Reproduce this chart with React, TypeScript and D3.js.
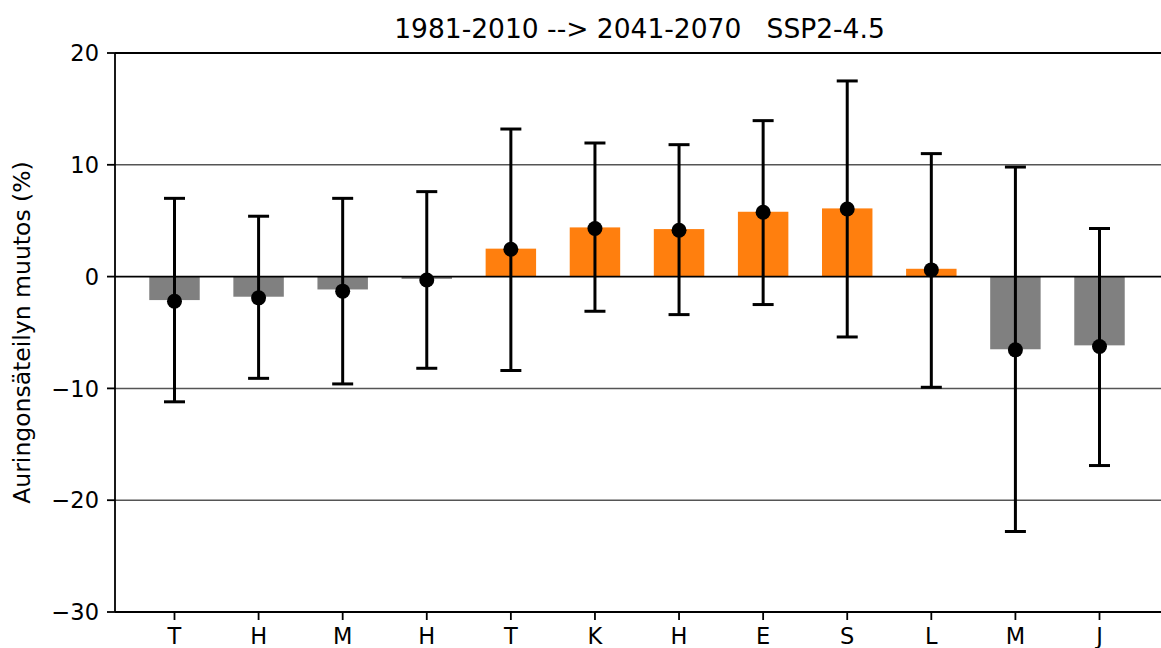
import React from "react";
import * as d3 from "d3";

const categories = ["T", "H", "M", "H", "T", "K", "H", "E", "S", "L", "M", "J"];
const barValues = [-2.1, -1.8, -1.15, -0.2, 2.5, 4.4, 4.25, 5.8, 6.1, 0.7, -6.5, -6.15];
const dotValues = [-2.2, -1.9, -1.3, -0.3, 2.45, 4.3, 4.15, 5.75, 6.05, 0.6, -6.55, -6.25];
const upperValues = [7.0, 5.4, 7.0, 7.6, 13.2, 11.95, 11.8, 13.95, 17.5, 11.0, 9.8, 4.3];
const lowerValues = [-11.2, -9.1, -9.6, -8.2, -8.4, -3.1, -3.4, -2.5, -5.4, -9.9, -22.8, -16.9];
const yTicks = [-30, -20, -10, 0, 10, 20];
const gridValues = [-20, -10, 10];

const W = 1161;
const H = 648;
const FONT = "'DejaVu Sans', sans-serif";

export default function App() {
  const left = 115;
  const right = 1164;
  const top = 53;
  const bottom = 612;
  const x = d3.scaleLinear().domain([-0.7075, 11.767]).range([left, right]);
  const y = d3.scaleLinear().domain([-30, 20]).range([bottom, top]);
  const barW = x(0.6) - x(0);
  const cap = 10.5;
  const fmt = (v: number) => (v < 0 ? "\u2212" + Math.abs(v) : String(v));

  return (
    <svg
      width={W}
      height={H}
      style={{ position: "absolute", left: 0, top: 0, background: "#fff" }}
      fontFamily={FONT}
    >
      <rect x={0} y={0} width={W} height={H} fill="#fff" />
      {gridValues.map((v) => (
        <line key={"g" + v} x1={left} x2={right} y1={y(v)} y2={y(v)} stroke="#555" strokeWidth={1.5} />
      ))}
      {barValues.map((v, i) => (
        <rect
          key={"b" + i}
          x={x(i) - barW / 2}
          y={Math.min(y(v), y(0))}
          width={barW}
          height={Math.abs(y(v) - y(0))}
          fill={v >= 0 ? "#ff7f0e" : "#808080"}
        />
      ))}
      <line x1={left} x2={right} y1={y(0)} y2={y(0)} stroke="#000" strokeWidth={1.8} />
      {dotValues.map((v, i) => (
        <g key={"e" + i} stroke="#000" strokeWidth={3}>
          <line x1={x(i)} x2={x(i)} y1={y(upperValues[i])} y2={y(lowerValues[i])} />
          <line x1={x(i) - cap} x2={x(i) + cap} y1={y(upperValues[i])} y2={y(upperValues[i])} />
          <line x1={x(i) - cap} x2={x(i) + cap} y1={y(lowerValues[i])} y2={y(lowerValues[i])} />
        </g>
      ))}
      {dotValues.map((v, i) => (
        <circle key={"d" + i} cx={x(i)} cy={y(v)} r={7.5} fill="#000" />
      ))}
      <line x1={left} x2={left} y1={top} y2={bottom} stroke="#000" strokeWidth={1.8} />
      <line x1={left} x2={right} y1={bottom} y2={bottom} stroke="#000" strokeWidth={1.8} />
      <line x1={left} x2={right} y1={top} y2={top} stroke="#000" strokeWidth={1.8} />
      {yTicks.map((t) => (
        <g key={"yt" + t}>
          <line x1={left - 8} x2={left} y1={y(t)} y2={y(t)} stroke="#000" strokeWidth={1.8} />
          <text x={left - 16} y={y(t)} dy="0.36em" textAnchor="end" fontSize={22.5} fill="#000">
            {fmt(t)}
          </text>
        </g>
      ))}
      {categories.map((c, i) => (
        <g key={"xt" + i}>
          <line x1={x(i)} x2={x(i)} y1={bottom} y2={bottom + 8} stroke="#000" strokeWidth={1.8} />
          <text x={x(i)} y={bottom + 32} textAnchor="middle" fontSize={22.5} fill="#000">
            {c}
          </text>
        </g>
      ))}
      <text
        transform={`translate(30, ${(top + bottom) / 2}) rotate(-90)`}
        textAnchor="middle"
        fontSize={23.5}
        fill="#000"
      >
        Auringonsäteilyn muutos (%)
      </text>
      <text x={(left + right) / 2} y={38} textAnchor="middle" fontSize={26.5} fill="#000" style={{ whiteSpace: "pre" }}>
        {"1981-2010 --> 2041-2070   SSP2-4.5"}
      </text>
    </svg>
  );
}
